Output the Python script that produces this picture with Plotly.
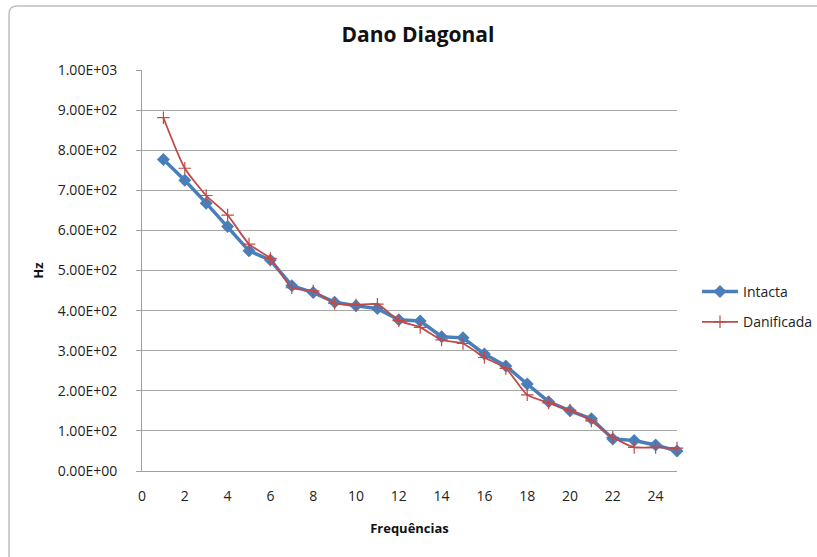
import plotly.graph_objects as go

frequencias = list(range(1, 26))
intacta = [777, 725, 668, 610, 549, 526, 462, 445, 421, 412, 405, 377, 374, 335, 332,
           292, 262, 217, 173, 150, 130, 80, 76, 65, 50]
danificada = [881, 755, 687, 638, 566, 530, 457, 449, 418, 414, 416, 375, 358, 327, 318,
              283, 256, 190, 170, 152, 125, 84, 59, 59, 57]
y_tickvals = [0, 100, 200, 300, 400, 500, 600, 700, 800, 900, 1000]
y_ticktext = ["0.00E+00", "1.00E+02", "2.00E+02", "3.00E+02", "4.00E+02", "5.00E+02",
              "6.00E+02", "7.00E+02", "8.00E+02", "9.00E+02", "1.00E+03"]
x_tickvals = [0, 2, 4, 6, 8, 10, 12, 14, 16, 18, 20, 22, 24]

W, H = 817, 557
L, R, T, B = 142, 140, 70, 86
FONT = "Open Sans, Lato, sans-serif"

fig = go.Figure()
fig.add_trace(go.Scatter(
    x=frequencias, y=intacta, name="Intacta", mode="lines+markers",
    legendgroup="a", cliponaxis=False,
    line=dict(color="#4A7EBB", width=3.5),
    marker=dict(symbol="diamond", size=10, color="#4A7EBB"),
))
fig.add_trace(go.Scatter(
    x=frequencias, y=danificada, name="Danificada", mode="lines+markers",
    legendgroup="b", cliponaxis=False,
    line=dict(color="#BE4B48", width=1.8, shape="spline", smoothing=0.6),
    marker=dict(symbol="cross-thin", size=9, color="#BE4B48",
                line=dict(width=1.2, color="#BE4B48")),
))

pw = W - L - R
ph = H - T - B
def px(xp):
    return (xp - L) / pw
def py(yp):
    return 1 - (yp - T) / ph

border = (f"M {px(9)} {py(600)} L {px(9)} {py(14)} "
          f"Q {px(9)} {py(6)} {px(17)} {py(6)} L {px(830)} {py(6)}")

fig.update_layout(
    width=W, height=H,
    margin=dict(l=L, r=R, t=T, b=B, autoexpand=False),
    paper_bgcolor="white", plot_bgcolor="white",
    font=dict(family=FONT, size=13, color="#222"),
    title=dict(text="<b>Dano Diagonal</b>", x=418 / W, xanchor="center",
               y=1 - 35 / H, yanchor="middle",
               font=dict(family=FONT, size=21, color="#111")),
    xaxis=dict(range=[0, 25], tickvals=x_tickvals, showgrid=False,
               showline=True, linecolor="#A0A0A0", linewidth=1,
               ticks="", zeroline=False, ticklabelstandoff=12,
               tickfont=dict(size=14, color="#222"),
               title=dict(text="<b>Frequências</b>", standoff=20,
                          font=dict(size=13, color="#111"))),
    yaxis=dict(range=[0, 1000], tickvals=y_tickvals, ticktext=y_ticktext,
               showgrid=True, gridcolor="#A6A6A6", gridwidth=1,
               showline=True, linecolor="#A0A0A0", linewidth=1,
               ticks="outside", ticklen=5, tickcolor="#A0A0A0",
               zeroline=False, ticklabelstandoff=16,
               tickfont=dict(size=14, color="#222"),
               title=dict(text="<b>Hz</b>", standoff=11,
                          font=dict(size=13, color="#111"))),
    legend=dict(x=px(697), y=py(276), xanchor="left", yanchor="top",
                font=dict(size=14, color="#222"), tracegroupgap=9,
                itemwidth=36, bgcolor="rgba(0,0,0,0)"),
    shapes=[dict(type="path", path=border, xref="paper", yref="paper",
                 line=dict(color="#BFBFBF", width=1.5), layer="below")],
)

fig.write_html("out.html")
